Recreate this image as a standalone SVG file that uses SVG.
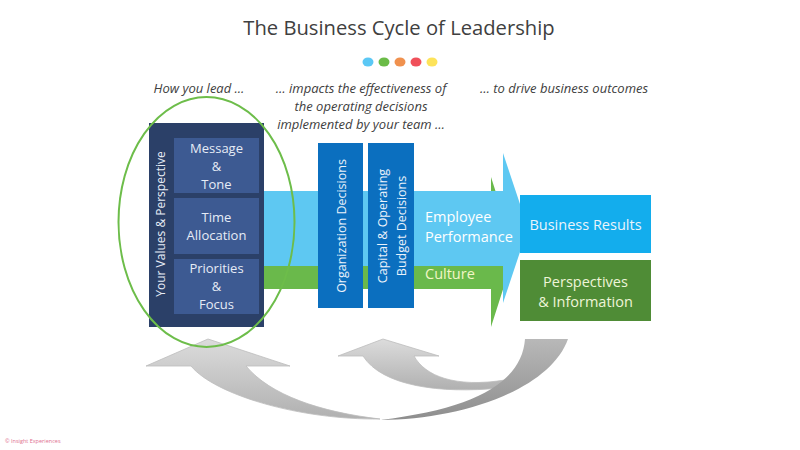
<svg xmlns="http://www.w3.org/2000/svg" width="800" height="450" viewBox="0 0 800 450">
<defs>
<linearGradient id="gLight" x1="0" y1="0" x2="0" y2="1">
<stop offset="0" stop-color="#dcdcdc"/>
<stop offset="1" stop-color="#b0b0b0"/>
</linearGradient>
<linearGradient id="gDark" x1="0" y1="0" x2="0" y2="1">
<stop offset="0" stop-color="#b8b8b8"/>
<stop offset="1" stop-color="#8e8e8e"/>
</linearGradient>
<style>
text{font-family:"Open Sans","Noto Sans","Liberation Sans",sans-serif}
.title{font-size:20.2px;fill:#404040;text-anchor:middle}
.cap{font-size:13px;fill:#404040;font-style:italic;text-anchor:middle}
.inner{fill:#3d5a92}
.lbl{font-size:13px;fill:#e6ecf6;text-anchor:middle}
.vlbl{font-size:12.5px;fill:#eaf2fb;text-anchor:middle}
.dec{fill:#0b6fbf}
.band{font-size:14.5px;fill:#ffffff}
.out{font-size:14.5px;text-anchor:middle}
.gray{stroke:#bdbdbd;stroke-width:0.8}
</style>
</defs>
<rect width="800" height="450" fill="#ffffff"/>

<g id="title">
<text class="title" x="399" y="35">The Business Cycle of Leadership</text>
<ellipse cx="368" cy="62" rx="5.5" ry="4.5" fill="#5bc8f5"/>
<ellipse cx="384" cy="62" rx="5.5" ry="4.5" fill="#6abb47"/>
<ellipse cx="400" cy="62" rx="5.5" ry="4.5" fill="#f0914e"/>
<ellipse cx="416" cy="62" rx="5.5" ry="4.5" fill="#f0505a"/>
<ellipse cx="432" cy="62" rx="5.5" ry="4.5" fill="#fde35a"/>
</g>

<g id="captions">
<text class="cap" x="199" y="93">How you lead ...</text>
<text class="cap" x="361" y="93">… impacts the effectiveness of</text>
<text class="cap" x="361" y="111">the operating decisions</text>
<text class="cap" x="361" y="129">implemented by your team …</text>
<text class="cap" x="564" y="93">… to drive business outcomes</text>
</g>

<g id="connectors">
<path id="feedback-small" class="gray" fill="url(#gLight)" d="M383,339 L439,356 L414,356 C425,376 455,388 505,380 L500,388 C440,394 382,386 363,356 L338,356 Z"/>
<path id="feedback-big-left" class="gray" fill="url(#gLight)" d="M208,339 L290,366 L246,366 C270,395 320,412 380,419 C300,420 215,395 191,366 L146,366 Z"/>
<path id="feedback-big-right" fill="url(#gDark)" d="M525,339 L568,339 C550,390 460,420 380,420 C480,408 522,380 525,339 Z"/>
<path id="culture-arrow" fill="#6ab94b" d="M264,215 L491,215 L491,177 L515,252 L491,327 L491,289 L264,289 Z"/>
<path id="performance-arrow" fill="#5ec8f2" d="M264,191 L503,191 L503,153 L528,228 L503,303 L503,266 L264,266 Z"/>
<text class="band" x="425" y="222">Employee</text>
<text class="band" x="425" y="242">Performance</text>
<text class="band" x="425" y="279" style="fill:#f3f6c6">Culture</text>
</g>

<g id="org-decisions">
<rect class="dec" x="318" y="143" width="45" height="165"/>
<text class="vlbl" transform="translate(346,226) rotate(-90)">Organization Decisions</text>
</g>

<g id="budget-decisions">
<rect class="dec" x="368" y="143" width="46" height="165"/>
<text class="vlbl" transform="translate(387,226) rotate(-90)">Capital &amp; Operating</text>
<text class="vlbl" transform="translate(406,226) rotate(-90)">Budget Decisions</text>
</g>

<g id="business-results">
<rect x="520" y="195" width="131" height="58" fill="#13aded"/>
<text class="out" x="585.5" y="230" fill="#eaf4fb">Business Results</text>
</g>

<g id="perspectives">
<rect x="520" y="260" width="131" height="61" fill="#4f8c36"/>
<text class="out" x="585.5" y="287" fill="#eef5d8">Perspectives</text>
<text class="out" x="585.5" y="307" fill="#eef5d8">&amp; Information</text>
</g>

<g id="leadership">
<rect x="149" y="123" width="115" height="204" fill="#2b4068"/>
<text class="vlbl" transform="translate(165,224) rotate(-90)" style="font-size:12px;fill:#e6ecf6">Your Values &amp; Perspective</text>
<g id="message-tone">
<rect class="inner" x="174" y="138" width="85" height="55"/>
<text class="lbl" x="216.5" y="153">Message</text>
<text class="lbl" x="216.5" y="171">&amp;</text>
<text class="lbl" x="216.5" y="189">Tone</text>
</g>
<g id="time-allocation">
<rect class="inner" x="174" y="198" width="85" height="56"/>
<text class="lbl" x="216.5" y="222">Time</text>
<text class="lbl" x="216.5" y="240">Allocation</text>
</g>
<g id="priorities-focus">
<rect class="inner" x="174" y="259" width="85" height="55"/>
<text class="lbl" x="216.5" y="273">Priorities</text>
<text class="lbl" x="216.5" y="291">&amp;</text>
<text class="lbl" x="216.5" y="309">Focus</text>
</g>
</g>

<g id="lead-ellipse">
<ellipse cx="206.5" cy="222" rx="88" ry="125" fill="none" stroke="#6dbd4a" stroke-width="2"/>
</g>

<g id="footer">
<text x="5" y="443" style="font-size:5.5px;fill:#e07090">© Insight Experiences</text>
</g>
</svg>
